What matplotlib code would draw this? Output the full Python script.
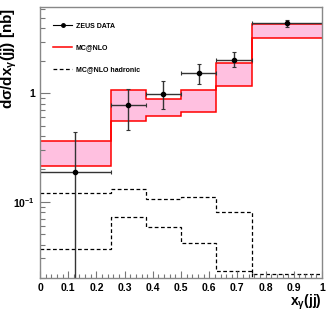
import numpy as np
import matplotlib
matplotlib.use("Agg")
import matplotlib.pyplot as plt
from matplotlib.ticker import FixedLocator, MultipleLocator, NullFormatter
from matplotlib.lines import Line2D

plt.rcParams['font.family'] = ['Liberation Sans', 'DejaVu Sans']
plt.rcParams['font.weight'] = 'bold'
plt.rcParams['mathtext.fontset'] = 'custom'
plt.rcParams['mathtext.rm'] = 'Liberation Sans:bold'
plt.rcParams['mathtext.it'] = 'Liberation Sans:bold'
plt.rcParams['mathtext.bf'] = 'Liberation Sans:bold'

# bin edges in x_gamma(jj)
edges = [0.0, 0.25, 0.375, 0.5, 0.625, 0.75, 1.0]

# ZEUS data
data_x = [0.125, 0.3125, 0.4375, 0.5625, 0.6875, 0.875]
data_y = [0.19, 0.786, 0.99, 1.54, 2.05, 4.42]
data_up = [0.44, 1.105, 1.29, 1.88, 2.38, 4.74]
data_lo = [0.005, 0.455, 0.71, 1.23, 1.75, 4.11]

# MC@NLO band
nlo_hi = [0.36, 1.066, 0.88, 1.077, 1.91, 4.40]
nlo_lo = [0.212, 0.554, 0.612, 0.674, 1.16, 3.23]

# MC@NLO hadronic (two dashed curves)
had_1 = [0.12, 0.131, 0.107, 0.11, 0.081, 0.0216]
had_2 = [0.037, 0.0726, 0.0587, 0.042, 0.023, 0.01]

fig = plt.figure(figsize=(3.32, 3.16), dpi=100)
ax = fig.add_axes([0.1205, 0.1218, 0.8495, 0.856])

ax.stairs(nlo_hi, edges, baseline=nlo_lo, fill=True, color='#ffc0e0', lw=0)
ax.stairs(nlo_hi, edges, baseline=None, color='red', lw=1.1)
ax.stairs(nlo_lo, edges, baseline=None, color='red', lw=1.1)

ax.stairs(had_1, edges, baseline=None, color='black', lw=0.9, ls=(0, (3, 2)))
ax.stairs(had_2, edges, baseline=None, color='black', lw=0.9, ls=(0, (3, 2)))

x = np.array(data_x)
y = np.array(data_y)
ed = np.array(edges)
xerr = [x - ed[:-1], ed[1:] - x]
yerr = [y - np.array(data_lo), np.array(data_up) - y]
ax.errorbar(x, y, xerr=xerr, yerr=yerr, fmt='o', color='black', ms=3,
            ecolor='#333333', elinewidth=1, capsize=1.5, capthick=0.8)

ax.set_yscale('log')
ax.set_xlim(0, 1)
ax.set_ylim(0.02, 6.25)

ax.xaxis.set_major_locator(MultipleLocator(0.1))
ax.xaxis.set_minor_locator(MultipleLocator(0.02))
ax.xaxis.set_major_formatter(plt.FuncFormatter(lambda v, p: '%g' % round(v, 1)))
ax.yaxis.set_major_locator(FixedLocator([0.1, 1]))
ax.yaxis.set_major_formatter(plt.FuncFormatter(
    lambda v, p: '1' if abs(v - 1) < 1e-9 else r'$10^{-1}$'))
ax.yaxis.set_minor_formatter(NullFormatter())

ax.tick_params(which='both', direction='in', top=False, right=False,
               labelsize=7.5, color='#777777')
ax.tick_params(which='major', length=7, width=0.8)
ax.tick_params(which='minor', length=3.5, width=0.8)
ax.tick_params(axis='x', which='major', length=5, pad=4)
ax.tick_params(axis='x', which='minor', length=3)
for s in ax.spines.values():
    s.set_color('#888888')
    s.set_linewidth(1.0)

ax.set_ylabel(r'd$\sigma$/dx$_\gamma$(jj) [nb]', fontsize=11, loc='top',
              fontweight='bold')
ax.yaxis.set_label_coords(-0.075, 0.995)
ax.set_xlabel(r'x$_\gamma$(jj)', fontsize=10, loc='right', fontweight='bold')
ax.xaxis.set_label_coords(1.0, -0.055)

handles = [
    Line2D([], [], color='black', marker='o', ms=2.5, lw=0.8),
    Line2D([], [], color='red', lw=1.1),
    Line2D([], [], color='black', lw=0.9, ls=(0, (3, 2))),
]
labels = ['ZEUS DATA', 'MC@NLO', 'MC@NLO hadronic']
ax.legend(handles, labels, loc='upper left', bbox_to_anchor=(0.035, 0.955),
          frameon=False, prop={'size': 5, 'weight': 'bold'},
          labelspacing=2.15, handlelength=2.7, handletextpad=0.5, borderpad=0)

fig.savefig('out.png', dpi=100)
